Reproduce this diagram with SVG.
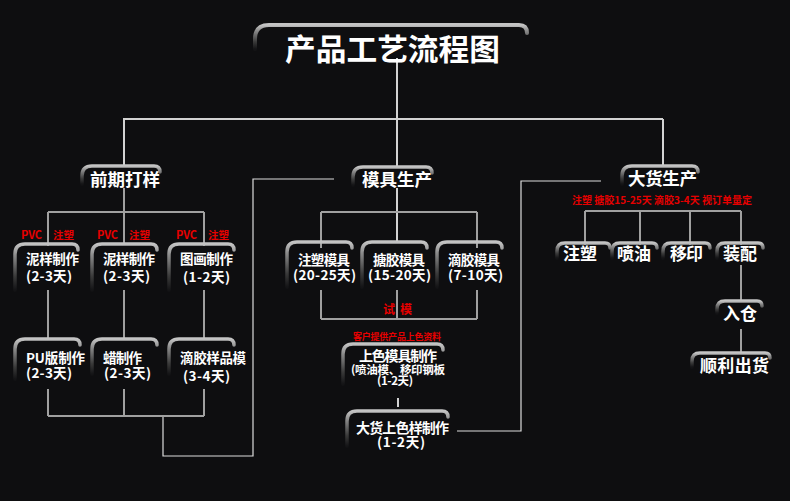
<svg xmlns="http://www.w3.org/2000/svg" width="790" height="501" viewBox="0 0 790 501">
<defs>
<linearGradient id="fg" x1="0" y1="0" x2="0" y2="1">
<stop offset="0" stop-color="#c4c4c4"/>
<stop offset="0.25" stop-color="#8a8a8a"/>
<stop offset="0.7" stop-color="#3a3a3a"/>
<stop offset="1" stop-color="#141416"/>
</linearGradient>
<style>
.fr{fill:none;stroke:url(#fg);stroke-width:3.5;stroke-linecap:round}
.t{font-family:"Noto Sans CJK SC","Noto Sans",sans-serif;font-weight:bold;fill:#ffffff}
.r{font-family:"Noto Sans CJK SC","Noto Sans",sans-serif;font-weight:bold;fill:#e60000}
.m{fill:none;stroke:#d2d2d2;stroke-width:2}
.s{fill:none;stroke:#a0a0a0;stroke-width:2}
.th{fill:none;stroke:#dcdcdc;stroke-width:1.2}
</style>
</defs>
<rect width="790" height="501" fill="#0e0e10"/>

<g id="connectors">
<path class="m" d="M397 58V119M123 119H663M124 119V166M397 119V167M663 119V166"/>
<path class="th" d="M334 179H253V456H163V416"/>
<path class="s" d="M124 188V244M48 212H204M48 212V246M204 212V246"/>
<path class="s" d="M48 290V339M124 290V339M204 290V339"/>
<path class="s" d="M48 389V416M124 389V416M204 389V416M48 416H204"/>
<path class="m" d="M397 188V242"/>
<path class="s" d="M321 212H477M321 212V248M477 212V248"/>
<path class="s" d="M321 290V319M397 290V319M477 290V319M321 319H477"/>
<path class="m" d="M398 398V407"/>
<path class="th" d="M457 431H521V181H601"/>
<path class="s" d="M585 211H741M585 211V245M640 211V245M690 211V245M741 211V245"/>
<path class="s" d="M741 265V301M741 329V353"/>
</g>

<g id="title">
<path class="fr" style="stroke-width:4" d="M255 49V39Q255 25 269 25H519Q527 25 527 33"/>
<text class="t" x="285" y="60" font-size="30" textLength="215" lengthAdjust="spacingAndGlyphs">产品工艺流程图</text>
</g>

<g id="n-qiqi">
<path class="fr" d="M82 184V176Q82 166 92 166H154Q160 166 160 172"/>
<text class="t" x="90" y="186" font-size="17.5" textLength="70">前期打样</text>
</g>
<g id="n-muju">
<path class="fr" d="M353 185V177Q353 167 363 167H426Q432 167 432 173"/>
<text class="t" x="362" y="186" font-size="17.5" textLength="70">模具生产</text>
</g>
<g id="n-dahuo">
<path class="fr" d="M622 184V176Q622 166 632 166H692Q698 166 698 172"/>
<text class="t" x="628" y="185" font-size="17.5" textLength="69">大货生产</text>
</g>

<g id="labels-pvc">
<text class="r" x="21" y="239" font-size="11" textLength="21">PVC</text>
<text class="r" x="53" y="239" font-size="10.5" textLength="21">注塑</text>
<text class="r" x="97" y="239" font-size="11" textLength="21">PVC</text>
<text class="r" x="129" y="239" font-size="10.5" textLength="21">注塑</text>
<text class="r" x="176" y="239" font-size="11" textLength="21">PVC</text>
<text class="r" x="208" y="239" font-size="10.5" textLength="21">注塑</text>
</g>

<g id="n-niyang1">
<path class="fr" d="M15 290V254Q15 244 25 244H72Q78 244 78 250"/>
<text class="t" x="26" y="264" font-size="13.5" textLength="53">泥样制作</text>
<text class="t" x="26" y="281" font-size="13.5" textLength="46">(2-3天)</text>
</g>
<g id="n-niyang2">
<path class="fr" d="M92 290V254Q92 244 102 244H151Q157 244 157 250"/>
<text class="t" x="103" y="264" font-size="13.5" textLength="52">泥样制作</text>
<text class="t" x="103" y="281" font-size="13.5" textLength="47">(2-3天)</text>
</g>
<g id="n-tuhua">
<path class="fr" d="M169 290V254Q169 244 179 244H228Q234 244 234 250"/>
<text class="t" x="180" y="264" font-size="13.5" textLength="53">图画制作</text>
<text class="t" x="183" y="282" font-size="13.5" textLength="47">(1-2天)</text>
</g>

<g id="n-pu">
<path class="fr" d="M15 379V349Q15 339 25 339H74Q80 339 80 345"/>
<text class="t" x="26" y="363" font-size="13.5" textLength="59">PU版制作</text>
<text class="t" x="26" y="378" font-size="13.5" textLength="46">(2-3天)</text>
</g>
<g id="n-la">
<path class="fr" d="M92 374V349Q92 339 102 339H151Q157 339 157 345"/>
<text class="t" x="103" y="363" font-size="13.5" textLength="39">蜡制作</text>
<text class="t" x="104" y="378" font-size="13.5" textLength="47">(2-3天)</text>
</g>
<g id="n-dijiao-yang">
<path class="fr" d="M169 374V349Q169 339 179 339H228Q234 339 234 345"/>
<text class="t" x="180" y="363" font-size="13.5" textLength="66">滴胶样品模</text>
<text class="t" x="183" y="381" font-size="13.5" textLength="47">(3-4天)</text>
</g>

<g id="n-zhusu-mj">
<path class="fr" d="M287 287V252Q287 242 297 242H346Q352 242 352 248"/>
<text class="t" x="298" y="265" font-size="13.5" textLength="52">注塑模具</text>
<text class="t" x="293" y="280" font-size="13.5" textLength="63">(20-25天)</text>
</g>
<g id="n-tangjiao-mj">
<path class="fr" d="M362 287V252Q362 242 372 242H421Q427 242 427 248"/>
<text class="t" x="373" y="265" font-size="13.5" textLength="52">搪胶模具</text>
<text class="t" x="368" y="280" font-size="13.5" textLength="63">(15-20天)</text>
</g>
<g id="n-dijiao-mj">
<path class="fr" d="M437 287V252Q437 242 447 242H496Q502 242 502 248"/>
<text class="t" x="448" y="265" font-size="13.5" textLength="52">滴胶模具</text>
<text class="t" x="448" y="280" font-size="13.5" textLength="55">(7-10天)</text>
</g>

<g id="label-shimo">
<text class="r" x="383" y="314" font-size="12" textLength="12">试</text>
<text class="r" x="400" y="314" font-size="12" textLength="12">模</text>
</g>

<g id="n-shangse-mj">
<text class="r" x="353" y="340" font-size="9" textLength="88">客户提供产品上色资料</text>
<path class="fr" d="M343 384V354Q343 344 353 344H437Q443 344 443 350"/>
<text class="t" x="359" y="361" font-size="14" textLength="78">上色模具制作</text>
<text class="t" x="351" y="374" font-size="11.5" textLength="94">(喷油模、移印钢板</text>
<text class="t" x="377" y="385" font-size="11.5" textLength="36">(1-2天)</text>
</g>
<g id="n-dahuo-shangse">
<path class="fr" d="M347 446V421Q347 411 357 411H442Q448 411 448 417"/>
<text class="t" x="356" y="433" font-size="14" textLength="93">大货上色样制作</text>
<text class="t" x="377" y="447" font-size="13.5" textLength="48">(1-2天)</text>
</g>

<g id="label-dahuo">
<text class="r" x="572" y="204" font-size="10" textLength="180">注塑 搪胶15-25天 滴胶3-4天 视订单量定</text>
</g>

<g id="n-zhusu">
<path class="fr" d="M557 258V251Q557 243 565 243H605Q610 243 610 248"/>
<text class="t" x="563" y="260" font-size="17" textLength="34">注塑</text>
</g>
<g id="n-penyou">
<path class="fr" d="M612 258V251Q612 243 620 243H652Q657 243 657 248"/>
<text class="t" x="617" y="260" font-size="17" textLength="34">喷油</text>
</g>
<g id="n-yiyin">
<path class="fr" d="M663 258V251Q663 243 671 243H705Q710 243 710 248"/>
<text class="t" x="670" y="260" font-size="17" textLength="33">移印</text>
</g>
<g id="n-zhuangpei">
<path class="fr" d="M717 258V251Q717 243 725 243H758Q763 243 763 248"/>
<text class="t" x="723" y="260" font-size="17" textLength="34">装配</text>
</g>
<g id="n-rucang">
<path class="fr" d="M717 313V309Q717 301 725 301H757Q762 301 762 306"/>
<text class="t" x="723" y="320" font-size="17" textLength="34">入仓</text>
</g>
<g id="n-chuhuo">
<path class="fr" d="M692 367V361Q692 353 700 353H765Q770 353 770 358"/>
<text class="t" x="700" y="372" font-size="17" textLength="69">顺利出货</text>
</g>
</svg>
